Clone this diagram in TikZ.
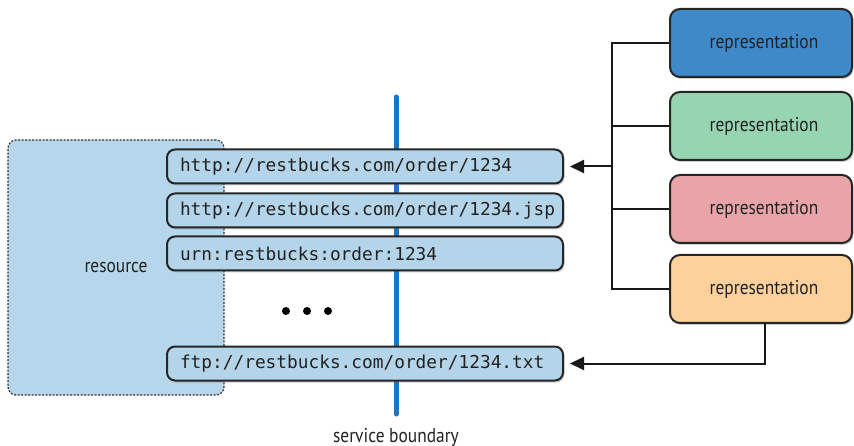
\documentclass[tikz,border=0pt]{standalone}
\usepackage{fontspec}
\setmonofont{DejaVu Sans Mono}
\newfontfamily\labelfont[FakeStretch=0.87]{PT Sans}
\usetikzlibrary{shadows,arrows.meta}
\definecolor{resfill}{HTML}{B6D6EC}
\definecolor{urlfill}{HTML}{B4D4EA}
\definecolor{boundary}{HTML}{1F74BC}
\definecolor{repblue}{HTML}{3F89C9}
\definecolor{repgreen}{HTML}{97D4B2}
\definecolor{reppink}{HTML}{E8A4A9}
\definecolor{reporange}{HTML}{FDD19C}
\definecolor{txt}{HTML}{222222}
\begin{document}
\begin{tikzpicture}[x=1pt,y=-1pt,
  resbox/.style={draw=black!80, line width=1.2pt, dash pattern=on 2pt off 1.5pt,
    rounded corners=8pt, fill=resfill, minimum width=216pt, minimum height=255pt,
    inner sep=0pt, font=\labelfont\fontsize{20}{22}\selectfont, text=txt},
  urlbox/.style={draw=black!85, line width=2pt, rounded corners=8pt, fill=urlfill,
    minimum height=34pt, inner xsep=13pt, inner ysep=0pt, text width=370pt, align=left,
    font=\ttfamily\fontsize{17.8}{20}\selectfont, text=txt,
    drop shadow={shadow xshift=1.5pt, shadow yshift=-2pt, opacity=0.3, fill=black!60}},
  repbox/.style={draw=black!85, line width=2pt, rounded corners=10pt,
    minimum width=182pt, minimum height=68pt, inner sep=0pt,
    font=\labelfont\fontsize{20}{22}\selectfont, text=txt,
    drop shadow={shadow xshift=1.5pt, shadow yshift=-2pt, opacity=0.3, fill=black!60}},
  dotnode/.style={circle, fill=black, inner sep=0pt, minimum size=8pt},
  conn/.style={draw=black!90, line width=2pt},
  arr/.style={-{Triangle[length=14pt,width=13pt]}, shorten >=6pt},
  bline/.style={draw=boundary, line width=5pt, line cap=round},
  plain/.style={font=\labelfont\fontsize{20}{22}\selectfont, text=txt, inner sep=0pt}
]
\useasboundingbox (0,0) rectangle (854,446);
\fill[white] (0,0) rectangle (854,446);

% resource
\node[resbox] (res) at (116,267.5) {resource};

% service boundary
\coordinate (btop) at (396,97);
\coordinate (bbot) at (396,414);
\draw[bline] (btop) -- (bbot);
\node[plain] (sb) at (396,437) {service boundary};

% URLs
\node[urlbox] (u1) at (365,166.5) {http://restbucks.com/order/1234};
\node[urlbox] (u2) at (365,210.5) {http://restbucks.com/order/1234.jsp};
\node[urlbox] (u3) at (365,253.5) {urn:restbucks:order:1234};
\node[urlbox] (u4) at (365,363.5) {ftp://restbucks.com/order/1234.txt};

% dots
\node[dotnode] (d1) at (286,311) {};
\node[dotnode] (d2) at (307,311) {};
\node[dotnode] (d3) at (328,311) {};

% representations
\node[repbox, fill=repblue]   (r1) at (761,43)  {\hspace*{6pt}representation};
\node[repbox, fill=repgreen]  (r2) at (761,126) {\hspace*{6pt}representation};
\node[repbox, fill=reppink]   (r3) at (761,209) {\hspace*{6pt}representation};
\node[repbox, fill=reporange] (r4) at (761,289) {\hspace*{6pt}representation};

% bracket
\coordinate (jx) at (612,166.5);
\draw[conn] (r1.west) -- (r1.west -| jx) -- (r4.west -| jx) -- (r4.west);
\draw[conn] (r2.west) -- (r2.west -| jx);
\draw[conn] (r3.west) -- (r3.west -| jx);
\draw[conn, arr] (jx) -- (u1.east);

% ftp connector
\coordinate (fx) at (765,323);
\draw[conn, arr] (fx) |- (u4.east);
\end{tikzpicture}
\end{document}
